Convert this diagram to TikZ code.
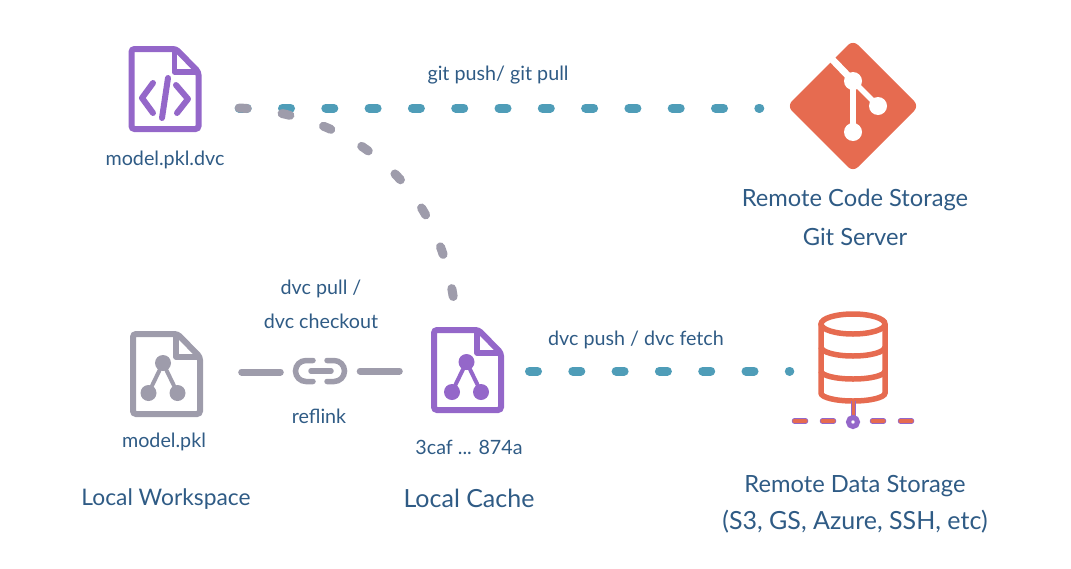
\documentclass[tikz,border=0pt]{standalone}
\usepackage{fontspec}
\setmainfont{Lato}
\usepackage{tikz}

\definecolor{inkblue}{HTML}{2F5B85}
\definecolor{tealdash}{HTML}{4F9DB8}
\definecolor{greydash}{HTML}{9E9CAB}
\definecolor{purpleicon}{HTML}{9467C9}
\definecolor{orangeicon}{HTML}{E66B50}

\tikzset{
	smalltext/.style={text=inkblue, font=\fontsize{19.7}{22}\selectfont, inner sep=0pt},
	bigtext/.style={text=inkblue, font=\fontsize{#1}{26}\selectfont, inner sep=0pt},
	bigtext/.default=23.7,
	iconbox/.style={inner sep=0pt, minimum width=#1},
	syncline/.style={line width=9pt, line cap=round, dash pattern=on 8pt off 35.3pt},
	linkline/.style={greydash, line width=7pt, line cap=round},
	docicon/.pic={
		\draw[line width=6pt, rounded corners=3pt] (-33.5,-40) -- (11,-40) -- (33.5,-17) -- (33.5,40) -- (-33.5,40) -- cycle;
		\draw[line width=5.5pt, line join=round] (9.5,-40) -- (9.5,-17) -- (33.5,-17);
	},
	graphglyph/.pic={
		\draw[line width=4pt] (-14.5,15) -- (0,-15) -- (14.5,15);
		\foreach \gx/\gy in {0/-15, -14.5/15, 14.5/15}
			\fill (\gx,\gy) circle (8);
	}
}

\begin{document}
\begin{tikzpicture}[x=1pt, y=-1pt]
	\useasboundingbox (0,0) rectangle (1071,568);

	% Icon places
	\node (dvcfile) [iconbox=74pt, minimum height=86pt] at (165,89) {};
	\node (gitlogo) [iconbox=124pt, minimum height=124pt] at (853,106) {};
	\node (workfile) [iconbox=74pt, minimum height=86pt] at (166.5,374) {};
	\node (cachefile) [iconbox=74pt, minimum height=86pt] at (467.5,370) {};
	\node (linkicon) [iconbox=55pt, minimum height=27pt] at (320,371) {};
	\node (datadb) [iconbox=70pt, minimum height=92pt] at (853,358) {};

	% Sync lines
	\draw[syncline, tealdash] ([shift={(37,19)}]dvcfile.east) -- ([shift={(-31,2)}]gitlogo.west);
	\draw[syncline, greydash] ([shift={(37,19)}]dvcfile.east) .. controls (340,113) and (435,172) .. ([shift={(-14,-28)}]cachefile.north);
	\draw[syncline, tealdash] ([shift={(62,1)}]cachefile.center) -- ([shift={(-28,13)}]datadb.west);

	% Reflink lines
	\draw[linkline] ([shift={(38,-2)}]workfile.east) -- ([shift={(-12,1)}]linkicon.west);
	\draw[linkline] ([shift={(12.5,0)}]linkicon.east) -- ([shift={(-31,1)}]cachefile.west);

	% Files
	\pic[purpleicon] at (dvcfile) {docicon};
	\begin{scope}[shift={(dvcfile)}, purpleicon, line width=6pt, line cap=round, line join=round]
		\draw (-12,-6) -- (-23,9) -- (-12,24);
		\draw (11,-4) -- (23,10) -- (12,24);
		\draw (3,-11) -- (-3,29);
	\end{scope}
	\pic[greydash] at (workfile) {docicon};
	\pic[greydash] at ([shift={(-3.5,4)}]workfile.center) {graphglyph};
	\pic[purpleicon] at (cachefile) {docicon};
	\pic[purpleicon] at ([shift={(-1,7)}]cachefile.center) {graphglyph};

	% Link
	\begin{scope}[shift={(linkicon)}, greydash, line width=5.5pt, line cap=round]
		\draw (-7,-10.5) -- (-14,-10.5) arc[start angle=270, end angle=90, radius=10.5] -- (-7,10.5);
		\draw (7,-10.5) -- (14,-10.5) arc[start angle=-90, end angle=90, radius=10.5] -- (7,10.5);
		\draw (-9,0) -- (11,0);
	\end{scope}

	% Git logo
	\begin{scope}[shift={(gitlogo)}]
		\fill[orangeicon, rounded corners=7pt] (0,-66) -- (66,0) -- (0,66) -- (-66,0) -- cycle;
		\draw[white, line width=7pt] (-25,-51) -- (0,-25);
		\draw[white, line width=5.5pt] (0,-25) -- (25,0);
		\draw[white, line width=6.5pt] (0,-25) -- (0,26);
		\foreach \gx/\gy in {0/-25, 25/0, 0/26}
			\fill[white] (\gx,\gy) circle (9);
	\end{scope}

	% Data storage
	\begin{scope}[shift={(datadb)}, orangeicon, line width=5.5pt]
		\draw (0,-34) ellipse [x radius=32, y radius=10];
		\draw (-32,-34) -- (-32,35) arc[start angle=180, end angle=0, x radius=32, y radius=8] -- (32,-34);
		\draw (-32,-11) arc[start angle=180, end angle=0, x radius=32, y radius=9];
		\draw (-32,13) arc[start angle=180, end angle=0, x radius=32, y radius=8];
		\draw[purpleicon, line width=5pt] (0,43) -- (0,58);
		\draw[line width=3pt] (0,43) -- (0,58);
		\foreach \dx in {-53,-25,25,53} {
			\draw[purpleicon, line cap=round, line width=5.5pt] (\dx-5.5,63) -- (\dx+5.5,63);
			\draw[line cap=round, line width=4pt] (\dx-5.5,63) -- (\dx+5.5,63);
		}
		\draw[purpleicon, line width=5pt] (0,64) circle (4.5);
	\end{scope}

	% Labels
	\node (gitlabel) [smalltext] at (498,75) {git push/ git pull};
	\node (dvcname) [smalltext] at (165,160) {model.pkl.dvc};
	\node (workname) [smalltext] at (164,442) {model.pkl};
	\node (cachename) [smalltext] at (469,447) {3caf ... 874a};
	\node (pulltext) [smalltext] at (321,289) {dvc pull /};
	\node (checkouttext) [smalltext] at (321,321) {dvc checkout};
	\node (reflinktext) [smalltext] at (319,416) {reflink};
	\node (pushlabel) [smalltext] at (636,340) {dvc push / dvc fetch};

	\node (codetitle) [bigtext] at (855,200) {Remote Code Storage};
	\node (gittitle) [bigtext] at (855,237) {Git Server};
	\node (worktitle) [bigtext=22.8] at (166,499) {Local Workspace};
	\node (cachetitle) [bigtext=25] at (469,498) {Local Cache};
	\node (datatitle) [bigtext] at (855,486) {Remote Data Storage};
	\node (dataother) [bigtext=25] at (855,522) {(S3, GS, Azure, SSH, etc)};
\end{tikzpicture}
\end{document}
